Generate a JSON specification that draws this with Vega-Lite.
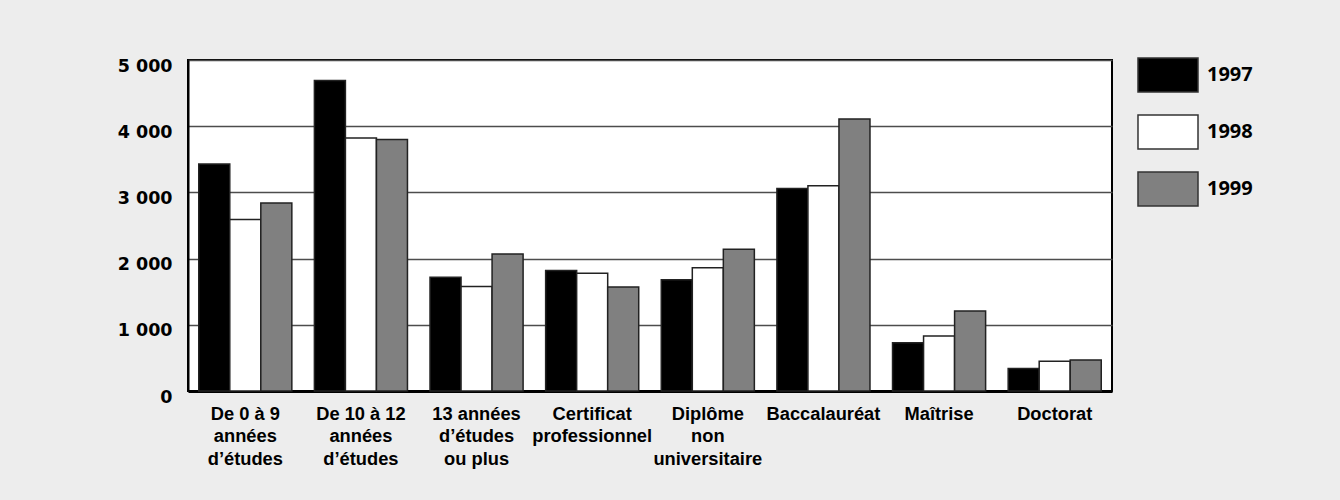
{
  "$schema": "https://vega.github.io/schema/vega-lite/v6.json",
  "width": 924,
  "height": 331,
  "autosize": {"type": "none"},
  "padding": {"left": 188, "top": 60, "right": 228, "bottom": 109},
  "background": "#ededed",
  "config": {"view": {"fill": "#ffffff", "stroke": "#000000", "strokeWidth": 2}},
  "data": {
    "values": [
      {"niveau": "De 0 à 9\nannées\nd’études", "annee": "1997", "valeur": 3430},
      {"niveau": "De 0 à 9\nannées\nd’études", "annee": "1998", "valeur": 2590},
      {"niveau": "De 0 à 9\nannées\nd’études", "annee": "1999", "valeur": 2840},
      {"niveau": "De 10 à 12\nannées\nd’études", "annee": "1997", "valeur": 4690},
      {"niveau": "De 10 à 12\nannées\nd’études", "annee": "1998", "valeur": 3820},
      {"niveau": "De 10 à 12\nannées\nd’études", "annee": "1999", "valeur": 3800},
      {"niveau": "13 années\nd’études\nou plus", "annee": "1997", "valeur": 1720},
      {"niveau": "13 années\nd’études\nou plus", "annee": "1998", "valeur": 1580},
      {"niveau": "13 années\nd’études\nou plus", "annee": "1999", "valeur": 2070},
      {"niveau": "Certificat\nprofessionnel", "annee": "1997", "valeur": 1820},
      {"niveau": "Certificat\nprofessionnel", "annee": "1998", "valeur": 1780},
      {"niveau": "Certificat\nprofessionnel", "annee": "1999", "valeur": 1570},
      {"niveau": "Diplôme\nnon\nuniversitaire", "annee": "1997", "valeur": 1680},
      {"niveau": "Diplôme\nnon\nuniversitaire", "annee": "1998", "valeur": 1860},
      {"niveau": "Diplôme\nnon\nuniversitaire", "annee": "1999", "valeur": 2140},
      {"niveau": "Baccalauréat", "annee": "1997", "valeur": 3060},
      {"niveau": "Baccalauréat", "annee": "1998", "valeur": 3100},
      {"niveau": "Baccalauréat", "annee": "1999", "valeur": 4110},
      {"niveau": "Maîtrise", "annee": "1997", "valeur": 730},
      {"niveau": "Maîtrise", "annee": "1998", "valeur": 830},
      {"niveau": "Maîtrise", "annee": "1999", "valeur": 1210},
      {"niveau": "Doctorat", "annee": "1997", "valeur": 340},
      {"niveau": "Doctorat", "annee": "1998", "valeur": 450},
      {"niveau": "Doctorat", "annee": "1999", "valeur": 470}
    ]
  },
  "mark": {"type": "bar", "stroke": "#222222", "strokeWidth": 1.5},
  "encoding": {
    "x": {
      "field": "niveau",
      "type": "nominal",
      "sort": null,
      "scale": {"paddingInner": 0.195, "paddingOuter": 0.093},
      "axis": {
        "title": null,
        "labelAngle": 0,
        "ticks": false,
        "domainColor": "#000000",
        "domainWidth": 3,
        "labelFont": "Liberation Sans",
        "labelFontWeight": "bold",
        "labelFontSize": 18.3,
        "labelColor": "#000000",
        "labelPadding": 14,
        "labelBaseline": "top",
        "labelLineHeight": 22.7,
        "labelLimit": 0,
        "labelOverlap": false,
        "labelExpr": "split(datum.label, '\\n')"
      }
    },
    "xOffset": {"field": "annee", "type": "nominal", "scale": {"paddingInner": 0, "paddingOuter": 0}},
    "y": {
      "field": "valeur",
      "type": "quantitative",
      "scale": {"domain": [0, 5000], "nice": false},
      "axis": {
        "values": [0, 1000, 2000, 3000, 4000, 5000],
        "title": null,
        "grid": true,
        "gridColor": "#4d4d4d",
        "gridWidth": 1.5,
        "ticks": false,
        "domainColor": "#000000",
        "domainWidth": 2,
        "labelFont": "DejaVu Sans",
        "labelFontWeight": "bold",
        "labelFontSize": 17.5,
        "labelColor": "#000000",
        "labelPadding": 16,
        "labelBaseline": "alphabetic",
        "labelOffset": 11,
        "labelFlush": false,
        "labelOverlap": false,
        "labelExpr": "replace(format(datum.value, ','), ',', ' ')"
      }
    },
    "fill": {
      "field": "annee",
      "type": "nominal",
      "scale": {"range": ["#000000", "#ffffff", "#808080"]},
      "legend": {
        "title": null,
        "orient": "none",
        "legendX": 962,
        "legendY": -3,
        "padding": 0,
        "symbolType": "M-1.765,-1H1.765V1H-1.765Z",
        "symbolSize": 1156,
        "symbolStrokeColor": "#333333",
        "symbolStrokeWidth": 1.5,
        "symbolOpacity": 1,
        "labelFont": "Open Sans",
        "labelFontWeight": "bold",
        "labelFontSize": 20,
        "labelColor": "#000000",
        "labelOffset": 21,
        "rowPadding": 17
      }
    }
  }
}
